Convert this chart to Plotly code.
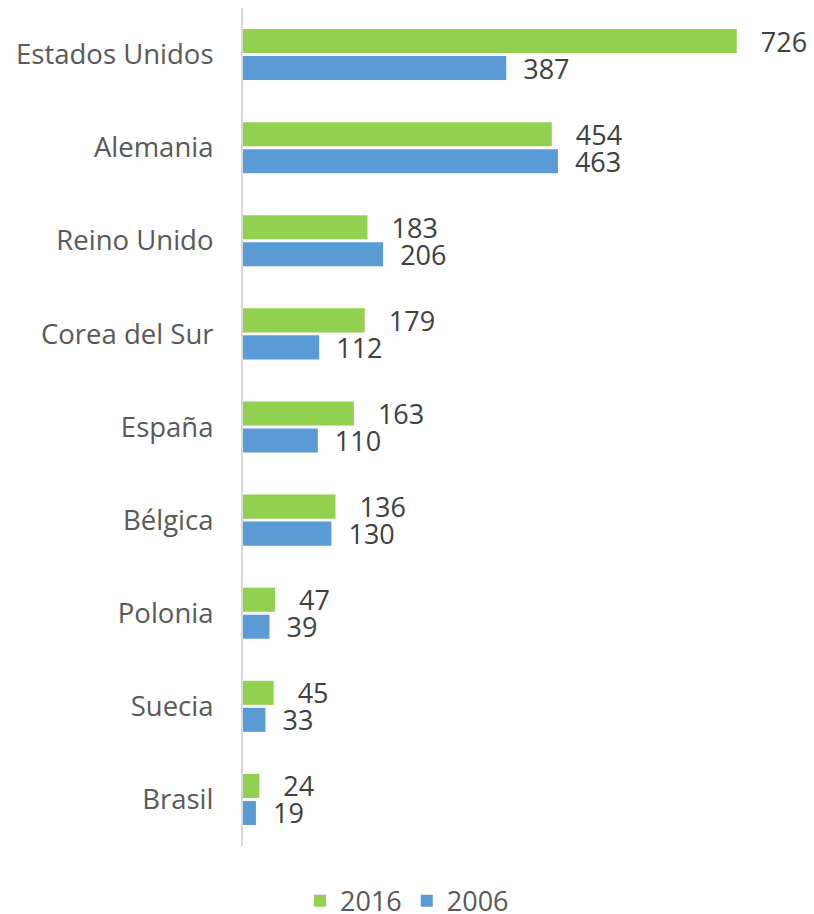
import plotly.graph_objects as go

categories = ["Estados Unidos", "Alemania", "Reino Unido", "Corea del Sur", "España",
              "Bélgica", "Polonia", "Suecia", "Brasil"]
values_2016 = [726, 454, 183, 179, 163, 136, 47, 45, 24]
values_2006 = [387, 463, 206, 112, 110, 130, 39, 33, 19]

GREEN = "#92D050"
BLUE = "#5B9BD5"
FONT = "Open Sans"

fig = go.Figure()
for name, vals, col, pad in [("2016", values_2016, GREEN, 3), ("2006", values_2006, BLUE, 2)]:
    fig.add_trace(go.Bar(
        y=categories, x=vals, name=name, orientation="h",
        marker=dict(color=col, line=dict(width=0)),
        text=["\u00a0" * pad + str(v) for v in vals], textposition="outside",
        textfont=dict(family=FONT, size=27, color="#404040"),
        constraintext="none",
        cliponaxis=False,
    ))

fig.update_layout(
    width=814, height=914,
    margin=dict(l=243, r=14, t=8, b=68, autoexpand=False),
    paper_bgcolor="white", plot_bgcolor="white",
    barmode="group", bargap=0.42, bargroupgap=0.11,
    font=dict(family=FONT, color="#595959"),
    showlegend=True,
    legend=dict(orientation="h", xref="container", yref="paper",
                x=0.5, xanchor="center", y=-0.066, yanchor="middle",
                font=dict(family=FONT, size=27, color="#595959"),
                traceorder="normal", itemwidth=30),
    xaxis=dict(range=[0, 819], visible=False),
    yaxis=dict(autorange="reversed", showline=True, linecolor="#D9D9D9", linewidth=2,
               ticks="", ticklabelstandoff=22, automargin=False,
               tickfont=dict(family=FONT, size=27.5, color="#595959"), showgrid=False),
)

fig.write_html("out.html", config={"displayModeBar": False},
               post_script="document.body.style.margin='0';")
